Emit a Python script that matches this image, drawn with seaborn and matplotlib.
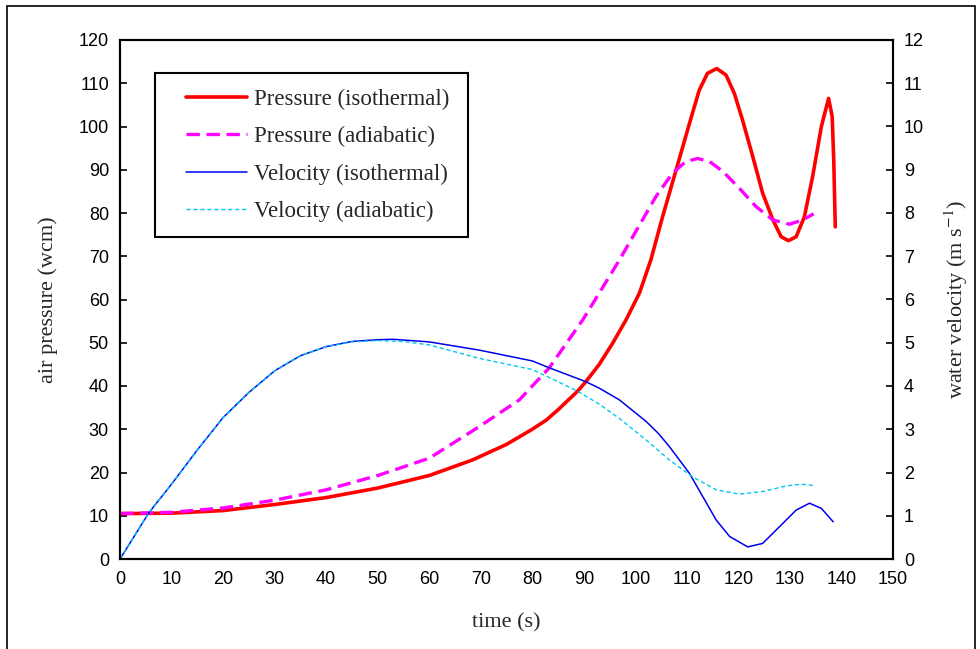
import numpy as np
import pandas as pd
import matplotlib.pyplot as plt
import seaborn as sns
from matplotlib.patches import Rectangle

# Pressure, isothermal (wcm)
t_p_iso = [0, 10, 20, 30, 40, 50, 60, 68.4, 75, 80, 82.7, 85, 88.8, 90.4, 93, 95.6, 98.2, 100.8,
           103.0, 105.3, 107.9, 110.5, 112.4, 114.0, 115.8, 117.6, 119.2, 120.8, 122.8, 124.7,
           126.7, 128.3, 129.7, 131.2, 132.8, 134.4, 136.1, 137.5, 138.2, 138.5, 138.8]
p_iso = [10.5, 10.6, 11.2, 12.6, 14.2, 16.4, 19.3, 22.9, 26.5, 30.0, 32.1, 34.5, 38.8, 41.0, 45.0,
         49.9, 55.3, 61.5, 69.1, 79.2, 89.9, 100.7, 108.4, 112.3, 113.4, 111.9, 107.7, 101.5, 93.0,
         84.6, 78.4, 74.5, 73.6, 74.5, 79.1, 88.4, 100.0, 106.5, 102.3, 92.3, 76.8]

# Pressure, adiabatic (wcm)
t_p_adi = [0, 10, 20, 30, 40, 50, 60, 69.7, 77.5, 83.3, 89.8, 93, 96.9, 100.8, 104.0, 107.2,
           109.8, 112.1, 114.4, 117.0, 120.2, 123.4, 126.7, 129.9, 132.5, 134.6]
p_adi = [10.5, 10.8, 11.8, 13.6, 16.0, 19.3, 23.3, 30.6, 36.8, 44.2, 55.3, 61.5, 69.1, 77.2, 83.8,
         89.2, 91.9, 92.6, 91.9, 89.6, 85.7, 81.5, 78.4, 77.4, 78.4, 79.8]

# Velocity, isothermal (m/s)
t_v_iso = [0, 2, 5.6, 9.8, 15, 20, 25, 30, 35, 40, 45, 50, 53, 60, 69.7, 80, 83.3, 90.4, 93, 96.9,
           99.4, 102.1, 104.5, 106.6, 110.5, 113.1, 115.7, 118.3, 121.8, 124.7, 128.0, 131.2,
           133.8, 136.1, 138.4]
v_iso = [0.0, 0.38, 1.07, 1.70, 2.52, 3.27, 3.85, 4.35, 4.70, 4.91, 5.03, 5.07, 5.08, 5.02, 4.83,
         4.58, 4.42, 4.10, 3.95, 3.68, 3.44, 3.18, 2.90, 2.60, 1.98, 1.44, 0.90, 0.52, 0.28, 0.36,
         0.75, 1.13, 1.29, 1.17, 0.86]

# Velocity, adiabatic (m/s)
t_v_adi = [0, 2, 5.6, 9.8, 15, 20, 25, 30, 35, 40, 45, 50, 55, 60, 69.7, 80, 82, 88.8, 93, 96.9,
           102.1, 106.6, 111.1, 115.7, 120.2, 124.7, 129.3, 132.2, 134.6]
v_adi = [0.0, 0.38, 1.07, 1.70, 2.52, 3.27, 3.85, 4.35, 4.70, 4.91, 5.02, 5.05, 5.03, 4.95, 4.64,
         4.38, 4.27, 3.88, 3.58, 3.25, 2.75, 2.29, 1.90, 1.60, 1.50, 1.56, 1.69, 1.73, 1.70]

sns.set_style('white')
plt.rcParams['font.family'] = ['Liberation Sans', 'DejaVu Sans']
plt.rcParams['mathtext.fontset'] = 'stix'
plt.rcParams['lines.solid_joinstyle'] = 'round'
plt.rcParams['lines.dash_joinstyle'] = 'round'

fig = plt.figure(figsize=(9.8, 6.49), dpi=100)
ax = fig.add_axes([120 / 980, 1 - 559 / 649, 773 / 980, 519 / 649])
ax2 = ax.twinx()

# Pressure on left axis
sns.lineplot(x=t_p_iso, y=p_iso, ax=ax, color='#ff0000', lw=2.6, sort=False,
             estimator=None, label='Pressure (isothermal)')
sns.lineplot(x=t_p_adi, y=p_adi, ax=ax, color='#ff00ff', lw=2.4, sort=False,
             estimator=None, label='Pressure (adiabatic)')
ax.lines[-1].set_dashes([4, 2])

# Velocity on right axis
sns.lineplot(x=t_v_iso, y=v_iso, ax=ax2, color='#0000ee', lw=1.1, sort=False,
             estimator=None, label='Velocity (isothermal)')
sns.lineplot(x=t_v_adi, y=v_adi, ax=ax2, color='#00c8f0', lw=1.0, sort=False,
             estimator=None, label='Velocity (adiabatic)')
ax2.lines[-1].set_dashes([3, 2])

ax.set_xlim(0, 150)
ax.set_ylim(0, 120)
ax2.set_ylim(0, 12)
ax.set_xticks(range(0, 151, 10))
ax.set_yticks(range(0, 121, 10))
ax2.set_yticks(range(0, 13, 1))

for a in (ax, ax2):
    for s in a.spines.values():
        s.set_linewidth(1.5)
        s.set_color('black')
    a.tick_params(direction='in', length=5, width=1.2, labelsize=13, colors='black', pad=8)
ax.tick_params(axis='x', pad=9)

serif = ['Liberation Serif', 'DejaVu Serif']
ax.set_xlabel('time (s)', family=serif, fontsize=16, labelpad=18)
ax.set_ylabel('air pressure (wcm)', family=serif, fontsize=16, labelpad=15)
ax2.set_ylabel('water velocity (m s$^{-1}$)', family=serif, fontsize=16, labelpad=13)

# Combined legend, frame drawn separately
h1, l1 = ax.get_legend_handles_labels()
h2, l2 = ax2.get_legend_handles_labels()
if ax.get_legend():
    ax.get_legend().remove()
if ax2.get_legend():
    ax2.get_legend().remove()
leg = ax2.legend(h1 + h2, l1 + l2, loc='upper left',
                 bbox_to_anchor=((186 - 120) / 773, 1 - (89 - 40) / 519),
                 prop={'family': serif, 'size': 16.5}, frameon=False,
                 handlelength=2.66, handletextpad=0.3, labelspacing=0.7,
                 borderpad=0, borderaxespad=0)
ax2.add_patch(Rectangle(((155 - 120) / 773, 1 - (237 - 40) / 519), 313 / 773, 164 / 519,
                        transform=ax2.transAxes, fill=False, edgecolor='black',
                        lw=1.5, zorder=5))

# Outer border round the figure
fig.patches.append(Rectangle((7 / 980, -0.02), 968 / 980, 1.02 - 6 / 649,
                             transform=fig.transFigure, fill=False,
                             edgecolor='black', lw=1.2))

fig.savefig('out.png', dpi=100)
